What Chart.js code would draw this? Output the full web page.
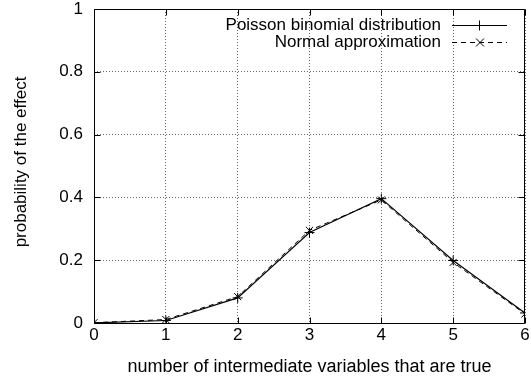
<!DOCTYPE html>
<html>
<head>
<meta charset="utf-8">
<script src="https://cdn.jsdelivr.net/npm/chart.js@4"></script>
<style>
  html, body { margin: 0; padding: 0; background: #fff; }
  #wrap { width: 531px; height: 383px; }
</style>
</head>
<body>
<div id="wrap"><canvas id="grafico" width="531" height="383"></canvas></div>
<script>
// Datos
const numVerdaderas = [0, 1, 2, 3, 4, 5, 6];
const poissonBinomial = [0.0004, 0.008, 0.08, 0.288, 0.396, 0.199, 0.032];
const aproxNormal = [0.001, 0.011, 0.084, 0.295, 0.392, 0.193, 0.029];
const marcasY = [0, 0.2, 0.4, 0.6, 0.8, 1];
const nombresSeries = ['Poisson binomial distribution', 'Normal approximation'];

const fuente = { family: "'Liberation Sans', Arial, sans-serif", size: 17 };

// Marco, marcas interiores, título Y y leyenda al estilo gnuplot
const pluginGnuplot = {
    id: 'gnuplot',
    afterDraw(chart) {
        const ctx = chart.ctx;
        const a = chart.chartArea;
        const sx = chart.scales.x, sy = chart.scales.y;
        const L = Math.round(a.left) + 0.5, R = Math.round(a.right) - 0.5;
        const T = Math.round(a.top) + 0.5, B = Math.round(a.bottom) + 0.5;
        ctx.save();
        ctx.strokeStyle = '#000';
        ctx.lineWidth = 1;
        ctx.setLineDash([]);
        ctx.beginPath();
        ctx.rect(L, T, R - L, B - T);
        numVerdaderas.forEach(v => {
            const px = Math.round(sx.getPixelForValue(v)) + 0.5;
            ctx.moveTo(px, B); ctx.lineTo(px, B - 6);
            ctx.moveTo(px, T); ctx.lineTo(px, T + 6);
        });
        marcasY.forEach(v => {
            const py = Math.round(sy.getPixelForValue(v)) + 0.5;
            ctx.moveTo(L, py); ctx.lineTo(L + 6, py);
            ctx.moveTo(R, py); ctx.lineTo(R - 6, py);
        });
        ctx.stroke();

        // título del eje Y
        ctx.fillStyle = '#000';
        ctx.font = `${fuente.size}px ${fuente.family}`;
        ctx.translate(21, (a.top + a.bottom) / 2 - 4);
        ctx.rotate(-Math.PI / 2);
        ctx.textAlign = 'center';
        ctx.textBaseline = 'middle';
        ctx.fillText('probability of the effect', 0, 0);
        ctx.restore();

        // leyenda
        ctx.save();
        ctx.font = `${fuente.size}px ${fuente.family}`;
        ctx.fillStyle = '#000';
        ctx.strokeStyle = '#000';
        ctx.lineWidth = 1;
        ctx.textAlign = 'right';
        ctx.textBaseline = 'middle';
        const filas = [25, 42];
        filas.forEach((y, i) => {
            ctx.fillText(nombresSeries[i], 441, y);
            const yy = Math.round(y) + 0.5;
            ctx.setLineDash(i === 0 ? [] : [5, 4]);
            ctx.beginPath();
            ctx.moveTo(452, yy); ctx.lineTo(507, yy);
            ctx.stroke();
            ctx.setLineDash([]);
            ctx.beginPath();
            if (i === 0) {
                ctx.moveTo(479.5, yy - 5); ctx.lineTo(479.5, yy + 5);
                ctx.moveTo(474.5, yy); ctx.lineTo(484.5, yy);
            } else {
                ctx.moveTo(476, yy - 4); ctx.lineTo(484, yy + 4);
                ctx.moveTo(476, yy + 4); ctx.lineTo(484, yy - 4);
            }
            ctx.stroke();
        });
        ctx.restore();
    }
};

const puntos = vals => numVerdaderas.map((x, i) => ({ x: x, y: vals[i] }));

new Chart(document.getElementById('grafico').getContext('2d'), {
    type: 'line',
    data: {
        datasets: [{
            label: nombresSeries[0],
            data: puntos(poissonBinomial),
            borderColor: '#000',
            backgroundColor: '#000',
            borderWidth: 1.2,
            pointStyle: 'cross',
            pointRadius: 5,
            pointBorderWidth: 1,
            tension: 0
        }, {
            label: nombresSeries[1],
            data: puntos(aproxNormal),
            borderColor: '#000',
            backgroundColor: '#000',
            borderWidth: 1,
            borderDash: [5, 4],
            pointStyle: 'crossRot',
            pointRadius: 5,
            pointBorderWidth: 1,
            tension: 0
        }]
    },
    options: {
        responsive: false,
        animation: false,
        layout: { padding: { top: 9, right: 3, left: 0, bottom: 0 } },
        plugins: { legend: { display: false }, tooltip: { enabled: false } },
        scales: {
            x: {
                type: 'linear',
                min: 0, max: 6,
                afterFit: s => { s.height = 60; s.paddingLeft = 0; s.paddingRight = 0; },
                afterBuildTicks: s => { s.ticks = numVerdaderas.map(v => ({ value: v })); },
                ticks: { color: '#000', font: fuente, padding: 2, maxRotation: 0, autoSkip: false },
                grid: { color: '#666', lineWidth: 1, drawTicks: false },
                border: { display: false, dash: [1, 2] },
                title: {
                    display: true,
                    text: 'number of intermediate variables that are true',
                    color: '#000', font: { family: fuente.family, size: 18 },
                    padding: { top: 0, bottom: 5 }
                }
            },
            y: {
                min: 0, max: 1,
                afterFit: s => { s.width = 94; s.paddingTop = 0; s.paddingBottom = 0; },
                afterBuildTicks: s => { s.ticks = marcasY.map(v => ({ value: v })); },
                ticks: { color: '#000', font: fuente, padding: 11, callback: v => String(v) },
                grid: { color: '#666', lineWidth: 1, drawTicks: false },
                border: { display: false, dash: [1, 2] }
            }
        }
    },
    plugins: [pluginGnuplot]
});
</script>
</body>
</html>
